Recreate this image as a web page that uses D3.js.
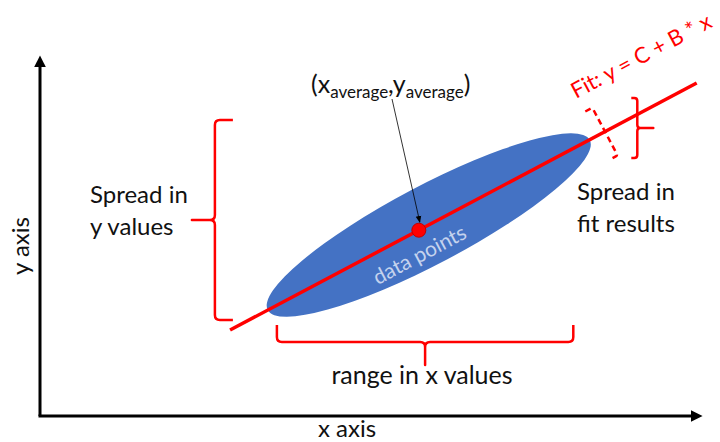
<!DOCTYPE html>
<html>
<head>
<meta charset="utf-8">
<script src="https://cdn.jsdelivr.net/npm/d3@7"></script>
<style>
  body { margin: 0; background: #fff; }
  text { font-family: Lato, "Open Sans", sans-serif; fill: #111; }
</style>
</head>
<body>
<div id="chart"></div>
<script>
// Conceptual data space (0..100 on both axes)
var fitC = -4.1;
var fitB = 0.976;
var fitRange = [28.8, 99.5];
var average = [57.4, 51.9];
var cloudEnds = [[34.5, 29.6], [83.3, 77.1]];
var ySpread = [26.8, 82.7];   // y values covered, brace at x = 26.5
var xSpread = [35.9, 80.8];   // x values covered, brace at y = 20.7
var fitSpread = [72.1, 88.8]; // fit results at x = 90.5
var fitSpreadX = 85.6;        // where the dashed bracket crosses the fit

var svgWidth = 720;
var svgHeight = 442;

var svg = d3.select("#chart")
  .append("svg")
  .attr("width", svgWidth)
  .attr("height", svgHeight);

var defs = svg.append("defs");
defs.append("marker")
  .attr("id", "bigArrow")
  .attr("viewBox", "0 0 10 10")
  .attr("refX", 2).attr("refY", 5)
  .attr("markerWidth", 4).attr("markerHeight", 4)
  .attr("orient", "auto")
  .append("path").attr("d", "M0,0 L10,5 L0,10 Z").attr("fill", "#000");
defs.append("marker")
  .attr("id", "smallArrow")
  .attr("viewBox", "0 0 10 10")
  .attr("refX", 9).attr("refY", 5)
  .attr("markerWidth", 7).attr("markerHeight", 7)
  .attr("markerUnits", "userSpaceOnUse")
  .attr("orient", "auto")
  .append("path").attr("d", "M0,1 L10,5 L0,9 Z").attr("fill", "#000");

var x = d3.scaleLinear().domain([0, 100]).range([40, 700]);
var y = d3.scaleLinear().domain([0, 100]).range([416, 58]);

// Axes (plain arrows, no ticks)
svg.append("line")
  .attr("x1", x(0)).attr("y1", y(0))
  .attr("x2", x(0)).attr("y2", y(100) + 7)
  .attr("stroke", "#000").attr("stroke-width", 3)
  .attr("marker-end", "url(#bigArrow)");
svg.append("line")
  .attr("x1", x(0) - 1.5).attr("y1", y(0))
  .attr("x2", x(100) - 7).attr("y2", y(0))
  .attr("stroke", "#000").attr("stroke-width", 3)
  .attr("marker-end", "url(#bigArrow)");

svg.append("text")
  .attr("x", 347).attr("y", 437)
  .attr("text-anchor", "middle")
  .attr("font-size", 24)
  .text("x axis");
svg.append("text")
  .attr("transform", "translate(29,246) rotate(-90)")
  .attr("text-anchor", "middle")
  .attr("font-size", 24)
  .text("y axis");

// Data cloud ellipse
var p0 = [x(cloudEnds[0][0]), y(cloudEnds[0][1])];
var p1 = [x(cloudEnds[1][0]), y(cloudEnds[1][1])];
var cx = (p0[0] + p1[0]) / 2, cy = (p0[1] + p1[1]) / 2;
var semiMajor = Math.hypot(p1[0] - p0[0], p1[1] - p0[1]) / 2;
var angle = Math.atan2(p1[1] - p0[1], p1[0] - p0[0]) * 180 / Math.PI;

svg.append("ellipse")
  .attr("transform", `translate(${cx},${cy}) rotate(${angle})`)
  .attr("rx", semiMajor).attr("ry", 39)
  .attr("fill", "#4472c4");

// Fit line
var fitLine = d3.line().x(d => x(d)).y(d => y(fitC + fitB * d));
svg.append("path")
  .attr("d", fitLine(fitRange))
  .attr("stroke", "#ff0000").attr("stroke-width", 3.5)
  .attr("fill", "none");

var lineAngle = Math.atan2(y(fitC + fitB * 1) - y(fitC), x(1) - x(0)) * 180 / Math.PI;

svg.append("text")
  .attr("transform", `translate(${x(average[0]) + 4},${y(average[1]) + 31}) rotate(${lineAngle})`)
  .attr("text-anchor", "middle")
  .attr("font-size", 21)
  .style("fill", "#c5d3ee")
  .text("data points");

// Average point
svg.append("circle")
  .attr("cx", x(average[0])).attr("cy", y(average[1]))
  .attr("r", 7)
  .attr("fill", "#ff0000").attr("stroke", "#c00000").attr("stroke-width", 1);

svg.append("line")
  .attr("x1", 392).attr("y1", 99)
  .attr("x2", x(average[0]) + 1).attr("y2", y(average[1]) - 8)
  .attr("stroke", "#000").attr("stroke-width", 0.8)
  .attr("marker-end", "url(#smallArrow)");

var avgLabel = svg.append("text")
  .attr("x", 311).attr("y", 93)
  .attr("font-size", 25);
avgLabel.append("tspan").text("(x");
avgLabel.append("tspan").attr("font-size", 17).attr("dy", 5).text("average");
avgLabel.append("tspan").attr("dy", -5).text(",y");
avgLabel.append("tspan").attr("font-size", 17).attr("dy", 5).text("average");
avgLabel.append("tspan").attr("dy", -5).text(")");

// Curly brace from a to b, tip on side of unit normal n
function brace(a, b, n, hook, tip, r) {
  var L = Math.hypot(b[0] - a[0], b[1] - a[1]);
  var u = [(b[0] - a[0]) / L, (b[1] - a[1]) / L];
  function P(s, t) {
    return (a[0] + s * u[0] + t * n[0]).toFixed(1) + "," + (a[1] + s * u[1] + t * n[1]).toFixed(1);
  }
  var m = L / 2;
  var d = "M" + P(0, -hook) + "L" + P(0, -r) + "Q" + P(0, 0) + " " + P(r, 0);
  if (tip > 0) {
    d += "L" + P(m - r, 0) + "Q" + P(m, 0) + " " + P(m, r) + "L" + P(m, tip) +
         "L" + P(m, r) + "Q" + P(m, 0) + " " + P(m + r, 0);
  }
  d += "L" + P(L - r, 0) + "Q" + P(L, 0) + " " + P(L, -r) + "L" + P(L, -hook);
  return d;
}

var braceG = svg.append("g")
  .attr("fill", "none")
  .attr("stroke", "#ff0000")
  .attr("stroke-width", 2.5)
  .attr("stroke-linejoin", "round");

braceG.append("path")
  .attr("d", brace([x(26.5), y(ySpread[1])], [x(26.5), y(ySpread[0])], [-1, 0], 18, 23, 5));
braceG.append("path")
  .attr("d", brace([x(xSpread[0]), y(20.7)], [x(xSpread[1]), y(20.7)], [0, 1], 17, 23, 5));
braceG.append("path")
  .attr("d", brace([x(90.5), y(fitSpread[1])], [x(90.5), y(fitSpread[0])], [1, 0], 6, 16, 3));

// Dashed bracket perpendicular to the fit line
var rad = lineAngle * Math.PI / 180;
var dir = [Math.cos(rad), Math.sin(rad)];       // along fit (up-right)
var perp = [-dir[1], dir[0]];                    // down-right
var c0 = [x(fitSpreadX), y(fitC + fitB * fitSpreadX)];
var half = 27;
braceG.append("path")
  .attr("stroke-dasharray", "6,4")
  .attr("d", brace([c0[0] - perp[0] * half, c0[1] - perp[1] * half],
                   [c0[0] + perp[0] * half, c0[1] + perp[1] * half], dir, 8, 0, 2));

svg.append("text")
  .attr("transform", `translate(576,99) rotate(${lineAngle})`)
  .attr("font-size", 22)
  .style("fill", "#ff0000")
  .text("Fit: y = C + B * x");

// Side labels
function twoLines(xp, yp, l1, l2) {
  var t = svg.append("text").attr("x", xp).attr("y", yp).attr("font-size", 24);
  t.append("tspan").attr("x", xp).text(l1);
  t.append("tspan").attr("x", xp).attr("dy", 32).text(l2);
}
twoLines(90, 203, "Spread in", "y values");
twoLines(577, 200, "Spread in", "fit results");

svg.append("text")
  .attr("x", 422).attr("y", 384)
  .attr("text-anchor", "middle")
  .attr("font-size", 25)
  .text("range in x values");
</script>
</body>
</html>
